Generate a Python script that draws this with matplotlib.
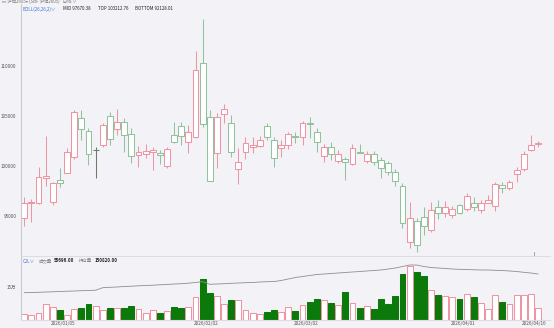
import matplotlib
matplotlib.use("Agg")
import matplotlib.pyplot as plt
import numpy as np

plt.rcParams["font.family"] = ["Noto Sans CJK SC", "DejaVu Sans"]

# daily candles
opens = [94770, 96350, 96330, 98770, 96370, 98600, 99330, 100930, 104770, 103500,
         101600, 102100, 105000, 103670, 104370, 103200, 101100, 101200, 101400, 101330,
         100000, 103100, 104000, 102430, 102930, 110270, 104930, 101330, 105200, 104270,
         99670, 101370, 101870, 102000, 104000, 102600, 101770, 102100, 103000, 102900,
         104270, 103370, 101030, 101870, 100500, 100670, 100200, 101400, 100500, 101200,
         100600, 100270, 99370, 98000, 92430, 94530, 94930, 93600, 95930, 95330,
         95100, 96100, 95670, 96270, 95600, 96330, 96000, 98100, 97770, 99200,
         99670, 101600, 102250]
highs = [96870, 96730, 99870, 103000, 98430, 99770, 101800, 105600, 105600, 103770,
         101930, 104270, 105430, 105700, 104770, 103770, 102000, 102170, 101870, 101600,
         101870, 104370, 104370, 104100, 111530, 114700, 105600, 105270, 106170, 105100,
         101770, 102930, 102930, 103000, 104270, 102930, 102600, 103430, 103430, 104500,
         104870, 103770, 102170, 102430, 101600, 100870, 102200, 102200, 101530, 101530,
         100930, 100530, 99670, 98270, 96430, 94770, 95870, 96430, 96600, 96530,
         96000, 96200, 97330, 96870, 96600, 97100, 98430, 98430, 98600, 99930,
         101530, 103100, 102530]
lows = [94000, 94430, 96200, 98000, 96100, 97870, 99270, 100700, 102600, 100100,
        98770, 101930, 102100, 103100, 101430, 100270, 99870, 100770, 99600, 100200,
        99830, 102270, 102100, 101270, 102770, 103930, 98530, 99770, 104270, 100930,
        98200, 100670, 101330, 101870, 102600, 99870, 100930, 101670, 102270, 102100,
        102770, 101430, 100430, 100600, 100270, 98600, 100100, 101270, 100330, 100100,
        98770, 99100, 98000, 93770, 91770, 91430, 93100, 93430, 94670, 94930,
        94770, 95200, 95530, 95530, 95270, 96270, 95530, 97330, 97600, 98430,
        99530, 101500, 101870]
closes = [96270, 96450, 98870, 99000, 98270, 98330, 101430, 105370, 103700, 101170,
          101600, 104100, 102670, 104370, 103100, 101000, 101400, 101500, 101600, 101100,
          101670, 102430, 103030, 103430, 109600, 104170, 98530, 104870, 105670, 101430,
          100430, 102270, 102100, 102600, 102870, 100830, 102100, 103170, 102870, 104300,
          104170, 102430, 101870, 101200, 101200, 100370, 101770, 101340, 101200, 100400,
          99770, 99430, 98530, 94270, 94770, 92100, 94000, 95600, 95330, 95870,
          95730, 95330, 97000, 95870, 96270, 96600, 98200, 97770, 98430, 99600,
          101200, 102070, 102290]
volumes = [27200, 22700, 31700, 72500, 60200, 43900, 22700, 48500, 55700, 72500,
           63400, 45300, 54400, 53000, 55700, 63400, 49800, 31700, 45300, 31700,
           40800, 58900, 53000, 57500, 104200, 184400, 122300, 107400, 72500, 90600,
           90600, 45300, 30400, 25800, 36200, 45300, 37600, 57500, 40800, 66600,
           80200, 93800, 89200, 75700, 66600, 125500, 75700, 55700, 62100, 48500,
           95100, 72500, 108700, 208400, 246000, 218800, 200700, 135900, 113300, 107400,
           102800, 96500, 116400, 104200, 75700, 48500, 111900, 80200, 71100, 111900,
           113300, 116400, 55696]
open_interest = [89500, 90200, 90800, 91800, 92500, 93500, 94400, 95100, 96100, 96700,
                 97700, 105900, 107200, 108200, 109800, 110800, 112100, 113100, 114100, 115400,
                 116400, 118000, 119000, 120700, 123000, 125600, 117100, 118000, 119000, 120300,
                 121300, 122300, 123000, 124600, 125600, 126200, 129500, 134400, 139400, 142600,
                 145900, 149200, 150800, 152500, 154100, 155800, 157400, 159000, 160700, 162300,
                 164000, 167200, 170500, 175400, 180300, 180300, 175400, 172100, 170500, 168900,
                 167200, 166200, 165600, 164600, 164000, 164000, 163000, 162300, 160700, 159000,
                 156400, 154100, 150820]

date_labels = ["2026/01/05", "2026/02/02", "2026/03/02", "2026/04/01", "2026/04/16"]
date_index = [6, 26, 40, 62, 72]

price_ticks = [95000, 100000, 105000, 110000]

bg = "#f3f3f7"
pink = "#ee94a2"
pale_green = "#92c29c"
dark_green = "#0b7a0b"
doji = "#6f786f"
axis_col = "#c9c9d0"
txt = "#555555"

W, H = 554, 328


def box(x0, y0, x1, y1):
    return [x0 / W, 1 - y1 / H, (x1 - x0) / W, (y1 - y0) / H]


o = np.array(opens)
h = np.array(highs)
l = np.array(lows)
c = np.array(closes)
idx = np.arange(len(o))
cols = np.where(c > o, pink, np.where(c < o, pale_green, doji))

fig = plt.figure(figsize=(5.54, 3.28), dpi=100)
fig.patch.set_facecolor(bg)

# -----------------------------------------
# price panel
# -----------------------------------------
ax = fig.add_axes(box(21, 4, 550, 256))
ax.set_facecolor(bg)
ax.vlines(idx, l, h, colors=cols, lw=0.75, zorder=1)
ax.bar(idx, np.abs(c - o), bottom=np.minimum(o, c), width=0.82,
       color="white", edgecolor=cols, linewidth=0.75, zorder=2)
ax.set_xlim(-0.46, 73.68)
ax.set_ylim(91000, 116200)
ax.set_yticks(price_ticks)
ax.set_yticklabels([str(p) for p in price_ticks])
ax.tick_params(axis="y", length=0, pad=3.4, labelsize=3.3, labelcolor=txt)
ax.set_xticks([])
for s in ["top", "right"]:
    ax.spines[s].set_visible(False)
ax.spines["left"].set_color(axis_col)
ax.spines["left"].set_linewidth(0.8)
ax.spines["bottom"].set_color("#dcdce2")
ax.spines["bottom"].set_linewidth(0.8)
ax.axvline(date_index[-1] - 0.5, ymax=0.015, color="#999999", lw=0.6)

# -----------------------------------------
# volume panel
# -----------------------------------------
up = c >= o
axv = fig.add_axes(box(21, 257, 550, 320))
axv.set_facecolor(bg)
axv.bar(idx, volumes, width=0.82, color=np.where(up, "white", dark_green),
        edgecolor=np.where(up, pink, dark_green), linewidth=0.75, zorder=2)
axv.set_xlim(-0.46, 73.68)
axv.set_ylim(0, 63 * 4530)
axv.set_yticks([150000])
axv.set_yticklabels(["15万"])
axv.tick_params(axis="y", length=0, pad=3.4, labelsize=3.3, labelcolor=txt)
axv.set_xticks([i - 0.5 for i in date_index])
axv.set_xticklabels(date_labels)
axv.tick_params(axis="x", length=0, pad=1.0, labelsize=3.4, labelcolor=txt)
for s in ["top", "right"]:
    axv.spines[s].set_visible(False)
axv.spines["left"].set_color(axis_col)
axv.spines["left"].set_linewidth(0.8)
axv.spines["bottom"].set_color("#dcdce2")
axv.spines["bottom"].set_linewidth(0.8)

axo = axv.twinx()
axo.plot(idx, open_interest, color="#8e8e8e", lw=0.6, zorder=3)
axo.set_ylim(0, 63 * 3279)
axo.set_xlim(-0.46, 73.68)
axo.axis("off")

# -----------------------------------------
# header texts
# -----------------------------------------
fs = 3.2
fig.text(2 / W, 1 - 1.5 / H, "ᴇᴇ 沪铝2605▾ (SBF 沪铝2605)   日线 ∨", fontsize=fs,
         color="#777777", va="center")
fig.text(22.7 / W, 1 - 9 / H, "BOLL(26,26,2)∨", fontsize=fs, color="#3b6fd4", va="center")
fig.text(62.7 / W, 1 - 9 / H, "MID 97670.38", fontsize=fs, color="#222222", va="center")
fig.text(97.7 / W, 1 - 9 / H, "TOP 103212.76", fontsize=fs, color="#222222", va="center")
fig.text(135 / W, 1 - 9 / H, "BOTTOM 92128.01", fontsize=fs, color="#222222", va="center")

fig.text(22.7 / W, 1 - 261 / H, "CJL∨", fontsize=fs, color="#3b6fd4", va="center")
fig.text(39 / W, 1 - 261 / H, "成交量", fontsize=fs, color="#888888", va="center")
fig.text(54 / W, 1 - 261 / H, "55696.00", fontsize=fs, color="#222222", va="center",
         fontweight="bold")
fig.text(79 / W, 1 - 261 / H, "持仓量", fontsize=fs, color="#888888", va="center")
fig.text(95 / W, 1 - 261 / H, "150820.00", fontsize=fs, color="#222222", va="center",
         fontweight="bold")

fig.savefig("out.png", dpi=100, facecolor=bg)
